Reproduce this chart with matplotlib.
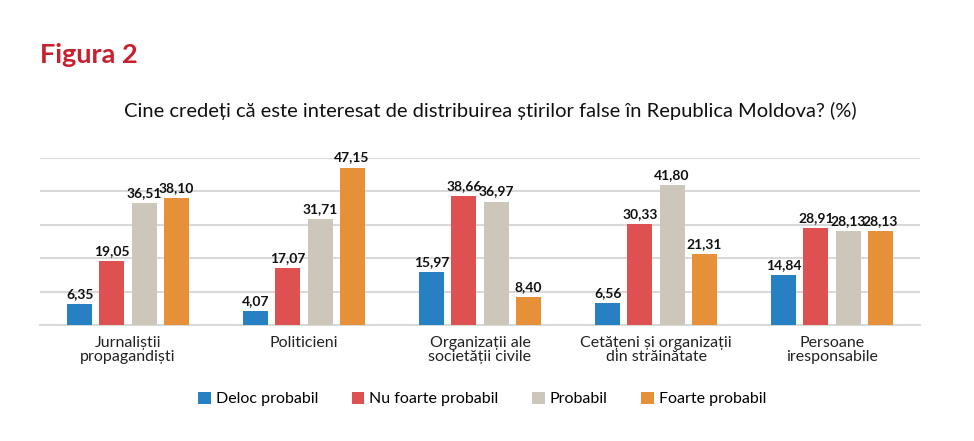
import numpy as np
import matplotlib.pyplot as plt

plt.rcParams["font.family"] = ["Lato", "DejaVu Sans"]

categories = [
    "Jurnaliștii\npropagandiști",
    "Politicieni",
    "Organizații ale\nsocietății civile",
    "Cetățeni și organizații\ndin străinătate",
    "Persoane\niresponsabile",
]
series = ["Deloc probabil", "Nu foarte probabil", "Probabil", "Foarte probabil"]
deloc = [6.35, 4.07, 15.97, 6.56, 14.84]
nu_foarte = [19.05, 17.07, 38.66, 30.33, 28.91]
probabil = [36.51, 31.71, 36.97, 41.80, 28.13]
foarte = [38.10, 47.15, 8.40, 21.31, 28.13]
colors = ["#2680C2", "#DF5150", "#CDC6BB", "#E6913A"]

values = [deloc, nu_foarte, probabil, foarte]

fig = plt.figure(figsize=(9.74, 4.41), dpi=100)
ax = fig.add_axes([40 / 974, 1 - 325 / 441, 880 / 974, 167 / 441])

x = np.arange(len(categories))
step = 0.182
width = 0.142
for i, (name, vals, col) in enumerate(zip(series, values, colors)):
    pos = x + (i - 1.5) * step
    bars = ax.bar(pos, vals, width, color=col, label=name, zorder=3)
    for b, v in zip(bars, vals):
        ax.text(b.get_x() + b.get_width() / 2, v + 1.2, f"{v:.2f}".replace(".", ","),
                ha="center", va="bottom", fontsize=10, fontweight="bold", color="#111111")

ax.set_xlim(-0.5, len(categories) - 0.5)
ax.set_ylim(0, 50)
ax.set_yticks(np.arange(0, 51, 10))
ax.set_yticklabels([])
ax.tick_params(axis="y", length=0)
ax.tick_params(axis="x", length=0, pad=8)
ax.set_xticks(x)
ax.set_xticklabels(categories, fontsize=11.5, color="#222222", linespacing=1.0)
ax.grid(axis="y", color="#D9D9D9", linewidth=1.5, zorder=0)
for s in ["top", "right", "left"]:
    ax.spines[s].set_visible(False)
ax.spines["bottom"].set_color("#D9D9D9")
ax.spines["bottom"].set_linewidth(1.5)

fig.text(40 / 974, 1 - 55 / 441, "Figura 2", fontsize=19.5, fontweight="bold",
         color="#C8202F", va="center", ha="left")
fig.text(490 / 974, 1 - 111 / 441,
         "Cine credeți că este interesat de distribuirea știrilor false în Republica Moldova? (%)",
         fontsize=14.5, color="#111111", ha="center", va="center")

fig.legend(loc="center", bbox_to_anchor=(482 / 974, 1 - 399 / 441), ncol=4, frameon=False,
           fontsize=11.5, handlelength=0.8, handleheight=0.8, handletextpad=0.3, columnspacing=2.1)

fig.savefig("out.png", dpi=100)
